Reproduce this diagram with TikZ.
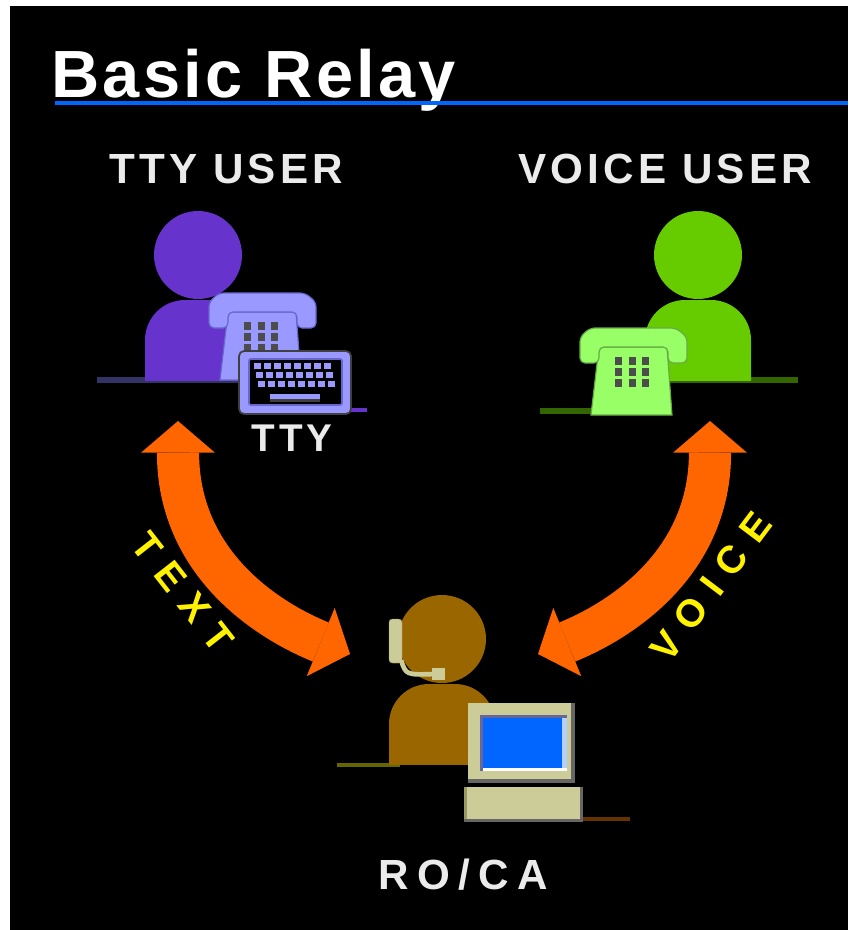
\documentclass[tikz,border=0pt]{standalone}
\usepackage{fontspec}
\setmainfont{Liberation Sans}
\newfontfamily\titlefont[LetterSpace=5]{Liberation Sans}
\newfontfamily\capfont[LetterSpace=10]{Liberation Sans}
\newfontfamily\wordfont[LetterSpace=35]{Liberation Sans}
\usetikzlibrary{arrows.meta}

\definecolor{ttypurple}{HTML}{6633CC}
\definecolor{ttylight}{HTML}{9999FF}
\definecolor{ttyshade}{HTML}{6666CC}
\definecolor{ttydesk}{HTML}{333366}
\definecolor{voicegreen}{HTML}{66CC00}
\definecolor{voicelight}{HTML}{99FF66}
\definecolor{voiceshade}{HTML}{66AA44}
\definecolor{voicedesk}{HTML}{336600}
\definecolor{agentbrown}{HTML}{996600}
\definecolor{agentdesk}{HTML}{666600}
\definecolor{cordbrown}{HTML}{663300}
\definecolor{beige}{HTML}{CCCC99}
\definecolor{beigedark}{HTML}{999966}
\definecolor{screenblue}{HTML}{0066FF}
\definecolor{bezel}{HTML}{666699}
\definecolor{relayorange}{HTML}{FF6600}

\tikzset{
  person/.pic={
    \fill[pic actions] (0,-125) circle[radius=44];
    \begin{scope}
      \clip (-60,-95) rectangle (60,0);
      \fill[pic actions, rounded corners=12mm] (-53,-80) rectangle (53,40);
    \end{scope}
  },
  phone/.pic={
    % the set itself
    \filldraw[pic actions] (-33,-68) -- (35,-68) -- (40,0) -- (-41,0) -- cycle;
    % handset on the cradle
    \filldraw[pic actions, rounded corners=1.5mm] (-52,-52) -- (-52,-78) -- (-42,-87) -- (44,-87)
      -- (55,-78) -- (55,-52) -- (36,-52) -- (36,-68) -- (-33,-68) -- (-33,-52) -- cycle;
    % buttons
    \foreach \bx in {-14,0,13}
      \foreach \by in {-58,-47,-36}
        \fill[black!70] (\bx-3,\by) rectangle +(7,8);
  },
  desk/.style={line width=5pt},
  caption/.style={inner sep=0pt, anchor=base, text=white!92!black,
    font=\capfont\bfseries\fontsize{36}{36}\selectfont},
  mode/.style={inner sep=0pt, text=yellow,
    font=\wordfont\bfseries\fontsize{33}{33}\selectfont},
  relay/.style={draw=relayorange, line width=36pt,
    arrows={Triangle[length=27pt,width=63pt,line width=0pt]-Triangle[length=27pt,width=63pt,line width=0pt]}},
}

\begin{document}
\begin{tikzpicture}[x=0.3mm, y=-0.3mm]
\useasboundingbox (0,0) rectangle (848,930);
\fill[white] (0,0) rectangle (848,930);
\fill[black] (10,6) rectangle (848,930);

% heading
\node[inner sep=0pt, anchor=base west, text=white, font=\titlefont\bfseries\fontsize{57}{57}\selectfont] (title) at (51,97) {Basic Relay};
\fill[screenblue] (55,101) rectangle (848,105);

% desks
\draw[desk, ttydesk] (97,380) -- (240,380);
\draw[desk, voicedesk] (640,380) -- (798,380);
\draw[desk, voicedesk] (540,411) -- (600,411);
\draw[desk, agentdesk, line width=3.5pt] (337,765) -- (400,765);
\draw[desk, ttypurple, line width=3.5pt] (340,410) -- (367,410);
\draw[desk, cordbrown, line width=4pt] (575,819) -- (630,819);

% people
\pic[fill=ttypurple] (ttyperson) at (198,380) {person};
\pic[fill=voicegreen] (voiceperson) at (698,380) {person};
\pic[fill=agentbrown] (agent) at (442,764) {person};

% telephones
\pic[fill=ttylight, draw=ttyshade, line width=1pt] (ttyphone) at (261,380) {phone};
\pic[fill=voicelight, draw=voiceshade, line width=1pt] (voicephone) at (632,415) {phone};

% tty keyboard
\filldraw[fill=ttylight, draw=black!75, line width=1.5pt, rounded corners=1.5mm] (239,351) rectangle (351,414);
\filldraw[fill=black, draw=ttyshade, line width=1.5pt, rounded corners=0.6mm] (249,359) rectangle (342,405);
\foreach \r in {0,1,2}
  \foreach \c in {0,...,7}
    \fill[ttylight] (254+\c*10+\r*2,363+\r*9) rectangle +(7,6);
\fill[ttylight] (270,394) rectangle (320,399);
\fill[black!75] (270,399) rectangle (320,402);

% headset
\filldraw[fill=beige, draw=beigedark, rounded corners=1mm] (389,619) rectangle (402,663);
\draw[beige, line width=4pt] (401,660) .. controls (406,675) .. (435,674);
\fill[beige] (432,668) rectangle (445,680);

% computer
\fill[beige] (468,703) rectangle (575,783);
\fill[black!60] (571,703) rectangle (575,783);
\fill[black!60] (468,779) rectangle (575,783);
\fill[screenblue] (480,715) rectangle (567,771);
\fill[bezel] (480,715) rectangle (567,718);
\fill[bezel] (480,715) rectangle (483,771);
\fill[white] (483,768) rectangle (567,771);
\fill[white!70!screenblue] (562,718) rectangle (567,768);
\fill[beige] (464,787) rectangle (583,822);
\fill[beigedark] (464,787) rectangle (467,822);
\fill[black!60] (464,819) rectangle (583,822);
\fill[black!60] (580,787) rectangle (583,822);

% relay arrows
\coordinate (ttyend) at (178,421);
\coordinate (voiceend) at (710,421);
\coordinate (caleft) at (350,654);
\coordinate (caright) at (538,654);
\draw[relay] (ttyend) .. controls +(0,139) and +(-88,-36) .. (caleft);
\draw[relay] (voiceend) .. controls +(0,139) and +(88,-36) .. (caright);

% labels
\node[caption] (ttyuser) at (226,183) {TTY USER};
\node[caption] (voiceuser) at (665,183) {VOICE USER};
\node[caption, font=\capfont\bfseries\fontsize{33}{33}\selectfont] (ttytag) at (292,451) {TTY};
\node[caption] (relayagent) at (463,889) {\addfontfeatures{LetterSpace=20}RO/CA};
\node[mode, rotate=-52] (textword) at (183,592) {TEXT};
\node[mode, rotate=53] (voiceword) at (711,587) {VOICE};
\end{tikzpicture}
\end{document}
